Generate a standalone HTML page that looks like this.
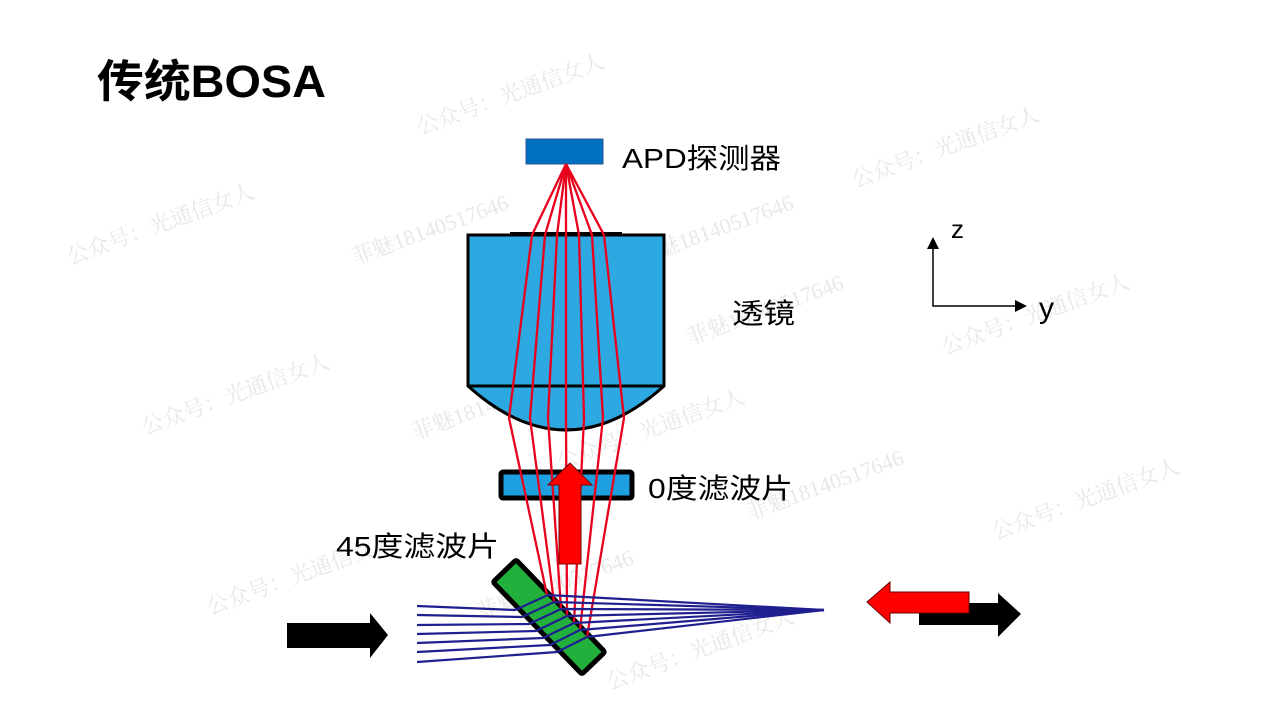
<!DOCTYPE html>
<html><head><meta charset="utf-8"><style>
html,body{margin:0;padding:0;background:#fff;}
svg{display:block;font-family:"Liberation Sans","Noto Sans CJK SC",sans-serif;}
</style></head><body>
<svg width="1269" height="714" viewBox="0 0 1269 714" xmlns="http://www.w3.org/2000/svg">
<rect width="1269" height="714" fill="#fff"/>
<!-- watermarks -->
<g fill="#e8e8e8" font-family="'Liberation Serif','Noto Serif CJK SC',serif" font-size="22">
<text transform="translate(420,135) rotate(-20)">公众号：光通信女人</text>
<text transform="translate(70,265) rotate(-20)">公众号：光通信女人</text>
<text transform="translate(855,188) rotate(-20)">公众号：光通信女人</text>
<text transform="translate(355,265) rotate(-20)">菲魅18140517646</text>
<text transform="translate(640,265) rotate(-20)">菲魅18140517646</text>
<text transform="translate(690,345) rotate(-20)">菲魅18140517646</text>
<text transform="translate(945,355) rotate(-20)">公众号：光通信女人</text>
<text transform="translate(145,435) rotate(-20)">公众号：光通信女人</text>
<text transform="translate(415,440) rotate(-20)">菲魅18140517646</text>
<text transform="translate(560,470) rotate(-20)">公众号：光通信女人</text>
<text transform="translate(750,520) rotate(-20)">菲魅18140517646</text>
<text transform="translate(995,540) rotate(-20)">公众号：光通信女人</text>
<text transform="translate(210,615) rotate(-20)">公众号：光通信女人</text>
<text transform="translate(480,620) rotate(-20)">菲魅18140517646</text>
<text transform="translate(610,690) rotate(-20)">公众号：光通信女人</text>
</g>

<text x="97" y="97" font-size="45" font-weight="bold" fill="#000" textLength="229" lengthAdjust="spacingAndGlyphs">传统BOSA</text>

<!-- APD -->
<rect x="526" y="139" width="77" height="25" fill="#0070c0" stroke="#2f5597" stroke-width="1"/>
<text x="622" y="168" font-size="28" fill="#000" textLength="159" lengthAdjust="spacingAndGlyphs">APD探测器</text>

<!-- lens -->
<line x1="510" y1="234" x2="622" y2="234" stroke="#000" stroke-width="4"/>
<path d="M468,235 H664 V386 Q566,474 468,386 Z" fill="#2ea8e0" stroke="#000" stroke-width="3"/>
<line x1="468" y1="386" x2="664" y2="386" stroke="#000" stroke-width="3"/>
<text x="732" y="323" font-size="28" fill="#000" textLength="63" lengthAdjust="spacingAndGlyphs">透镜</text>

<!-- 0 deg filter -->
<rect x="501" y="472" width="131" height="26" fill="#1ea0e0" stroke="#000" stroke-width="5" rx="2"/>
<text x="648" y="498" font-size="28" fill="#000" textLength="145" lengthAdjust="spacingAndGlyphs">0度滤波片</text>

<!-- green slab -->
<g transform="translate(549,617) rotate(46)">
<rect x="-64" y="-16" width="128" height="32" fill="#22b03c" stroke="#000" stroke-width="5" rx="2"/>
</g>
<text x="336" y="556" font-size="28" fill="#000" textLength="163" lengthAdjust="spacingAndGlyphs">45度滤波片</text>

<!-- red rays -->
<g stroke="#e8001c" stroke-width="2.3" fill="none">
<polyline points="566,164 532,235 509,418 547,595"/>
<polyline points="566,164 545,235 530,418 554,602"/>
<polyline points="566,164 557,235 548,418 561,609"/>
<polyline points="566,164 566,235 566,418 567,616"/>
<polyline points="566,164 579,235 584,418 574,623"/>
<polyline points="566,164 592,235 603,418 580,630"/>
<polyline points="566,164 604,235 624,418 587,637"/>
</g>
<g stroke="#e8001c" stroke-width="1" fill="none">
<line x1="547" y1="595" x2="824" y2="610"/>
<line x1="561" y1="609" x2="824" y2="610"/>
<line x1="574" y1="623" x2="824" y2="610"/>
<line x1="587" y1="637" x2="824" y2="610"/>
</g>
<!-- blue rays -->
<g stroke="#1f1f8f" stroke-width="2.2" fill="none">
<polyline points="417,606 515,610 548,595 824,610"/>
<polyline points="417,615 522,617 554,602 824,610"/>
<polyline points="417,625 529,624 561,609 824,610"/>
<polyline points="417,634 536,631 567,616 824,610"/>
<polyline points="417,643 543,638 574,623 824,610"/>
<polyline points="417,652 550,645 580,630 824,610"/>
<polyline points="417,662 557,652 587,637 824,610"/>
</g>

<!-- up red arrow -->
<polygon points="570,463 592,485 581,485 581,564 559,564 559,485 548,485" fill="#ff0000" stroke="#7a0000" stroke-width="1"/>

<!-- left black arrow -->
<polygon points="287,623 370,623 370,613 388,635 370,658 370,648 287,648" fill="#000"/>

<!-- right arrows -->
<polygon points="919,603 998,603 998,593 1021,614 998,637 998,625 919,625" fill="#000"/>
<polygon points="867,602 890,582 890,592 969,592 969,613 890,613 890,623" fill="#ff0000" stroke="#600" stroke-width="1"/>

<!-- axes -->
<g stroke="#000" stroke-width="1.5" fill="none">
<polyline points="933,246 933,306 1019,306"/>
</g>
<polygon points="933,237 927,249 939,249" fill="#000"/>
<polygon points="1027,306 1015,300 1015,312" fill="#000"/>
<text x="951" y="238" font-size="26" fill="#000">z</text>
<text x="1039" y="318" font-size="30" fill="#000">y</text>
</svg>
</body></html>
